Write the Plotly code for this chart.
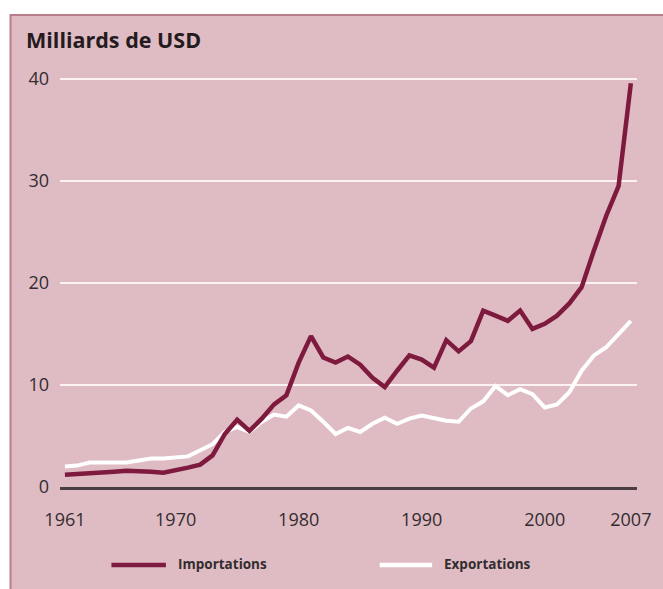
import plotly.graph_objects as go

years = list(range(1961, 2008))
importations = [1.2, 1.25, 1.3, 1.4, 1.5, 1.6, 1.6, 1.5, 1.4, 1.6, 1.9, 2.2, 3.1, 5.2, 6.6, 5.5, 6.7, 8.1, 9.0,
                12.2, 14.8, 12.7, 12.2, 12.8, 12.0, 10.7, 9.8, 11.4, 12.9, 12.5, 11.7, 14.4, 13.3, 14.3,
                17.3, 16.8, 16.3, 17.3, 15.5, 16.0, 16.8, 18.0, 19.6, 23.2, 26.6, 29.5, 39.6]
exportations = [2.0, 2.1, 2.4, 2.4, 2.4, 2.4, 2.6, 2.8, 2.8, 2.9, 3.0, 3.6, 4.2, 5.4, 5.9, 5.4, 6.4, 7.1, 6.9,
                8.0, 7.5, 6.4, 5.2, 5.8, 5.4, 6.2, 6.8, 6.2, 6.7, 7.0, 6.7, 6.5, 6.4, 7.7, 8.4, 9.9, 9.0,
                9.6, 9.1, 7.8, 8.1, 9.3, 11.4, 12.9, 13.7, 15.0, 16.3]
x_ticks = [1961, 1970, 1980, 1990, 2000, 2007]
y_ticks = [0, 10, 20, 30, 40]

IMP = "#7d1a3e"
EXP = "#ffffff"
PANEL = "#dfbcc3"
BORDER = "#b97c8a"
TXT = "#332c2f"

W, H = 663, 589
L, R, T, B = 60, 20, 74, 102
pw, ph = W - L - R, H - T - B


def px(xp):
    return (xp - L) / pw


def py(yp):
    return (H - B - yp) / ph


fig = go.Figure()
fig.add_trace(go.Scatter(x=years, y=exportations, mode="lines", name="Exportations",
                         line=dict(color=EXP, width=4), showlegend=False))
fig.add_trace(go.Scatter(x=years, y=importations, mode="lines", name="Importations",
                         line=dict(color=IMP, width=4.5), showlegend=False))

shapes = [
    dict(type="rect", xref="paper", yref="paper", x0=px(10), x1=px(680), y0=py(15), y1=py(600),
         fillcolor=PANEL, line=dict(color=BORDER, width=2), layer="below"),
    dict(type="line", xref="paper", yref="paper", x0=px(112), x1=px(167), y0=py(565), y1=py(565),
         line=dict(color=IMP, width=4.5)),
    dict(type="line", xref="paper", yref="paper", x0=px(383), x1=px(436), y0=py(565), y1=py(565),
         line=dict(color=EXP, width=4.5)),
]

annotations = [
    dict(text="<b>Milliards de USD</b>", xref="paper", yref="paper", x=px(24), y=py(39),
         xanchor="left", yanchor="middle", showarrow=False,
         font=dict(family="Open Sans", size=21.5, color="#241b1e")),
    dict(text="<b>Importations</b>", xref="paper", yref="paper", x=px(177), y=py(564),
         xanchor="left", yanchor="middle", showarrow=False,
         font=dict(family="Open Sans", size=13.5, color=TXT)),
    dict(text="<b>Exportations</b>", xref="paper", yref="paper", x=px(446), y=py(564),
         xanchor="left", yanchor="middle", showarrow=False,
         font=dict(family="Open Sans", size=13.5, color=TXT)),
]

fig.update_layout(
    width=W, height=H,
    margin=dict(l=L, r=R, t=T, b=B),
    paper_bgcolor="white",
    plot_bgcolor="rgba(0,0,0,0)",
    shapes=shapes,
    annotations=annotations,
    showlegend=False,
    font=dict(family="Open Sans", color=TXT),
)
fig.update_xaxes(range=[1960.6, 2007.5], tickvals=x_ticks, ticktext=[str(v) for v in x_ticks],
                 showgrid=False, zeroline=False, showline=True, linecolor="#4a3e42", linewidth=3,
                 ticks="", ticklabelstandoff=14, tickfont=dict(size=18, color=TXT))
fig.update_yaxes(range=[0, 40.5], tickvals=y_ticks, ticktext=[str(v) for v in y_ticks],
                 showgrid=True, gridcolor="#fbf2f4", gridwidth=2, zeroline=False, showline=False,
                 ticks="", ticklabelstandoff=10, tickfont=dict(size=18, color=TXT))

fig.write_html("out.html", config={"displayModeBar": False},
               post_script="document.body.style.margin='0';document.body.style.overflow='hidden';")
